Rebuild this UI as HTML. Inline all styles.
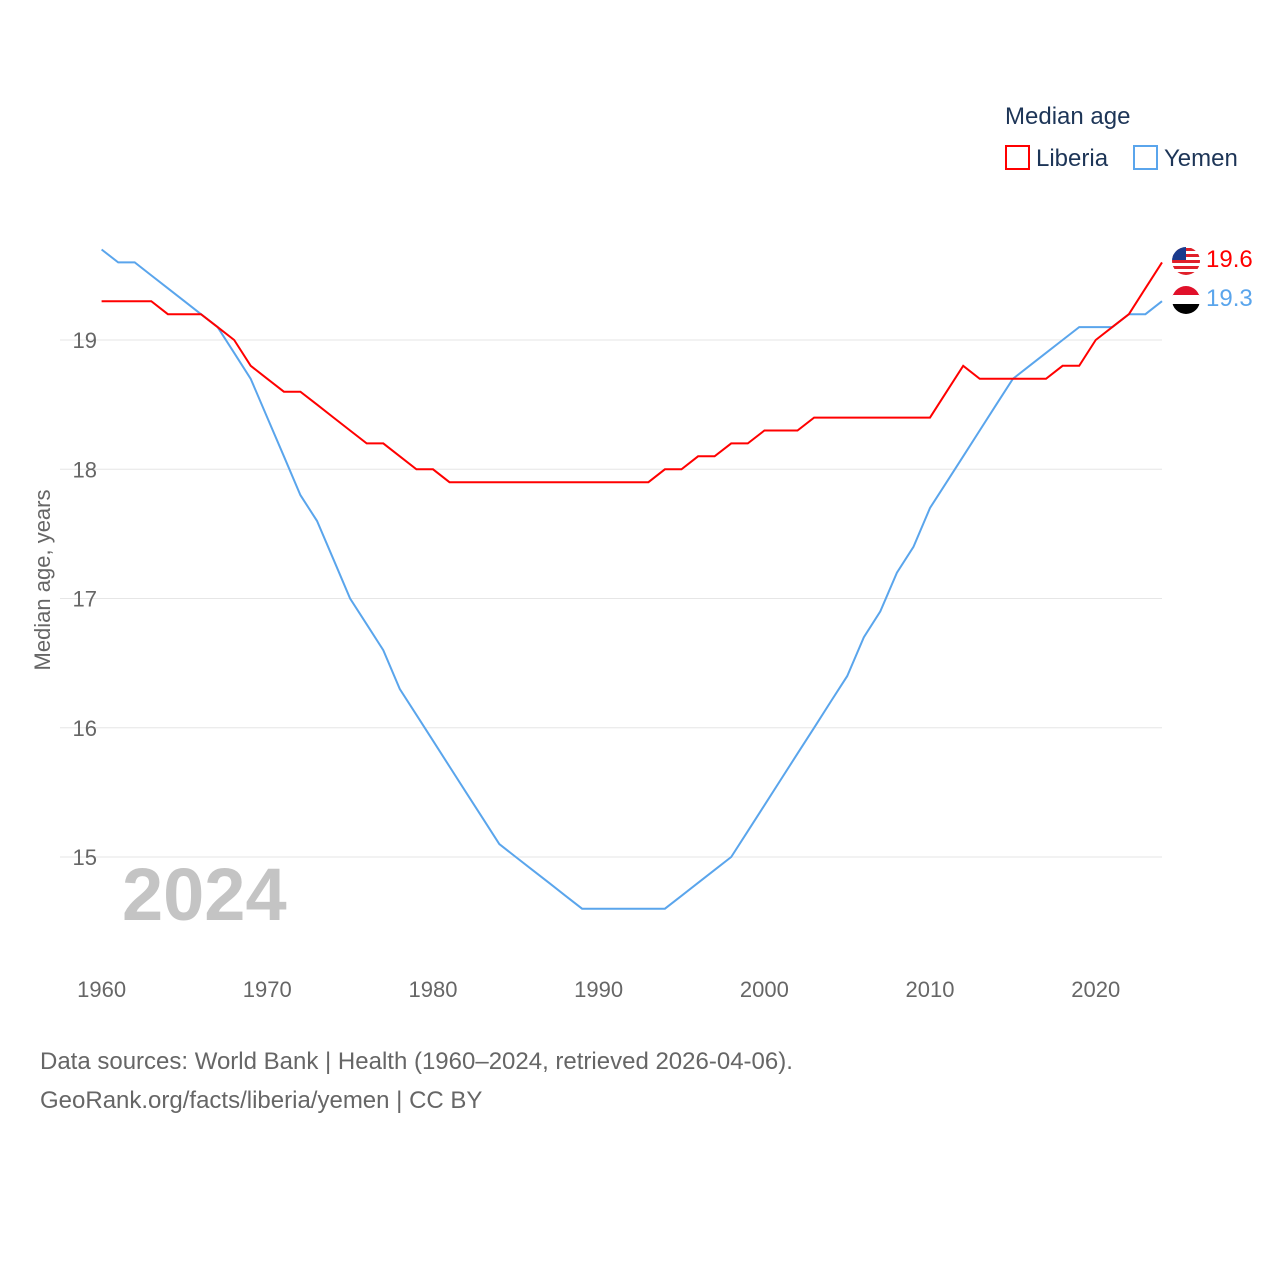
<!DOCTYPE html>
<html><head><meta charset="utf-8"><style>
body{margin:0;background:#fff;font-family:"Liberation Sans",sans-serif}
svg text{font-family:"Liberation Sans",sans-serif}
</style></head><body>
<svg id="chart" width="1280" height="1280" xmlns="http://www.w3.org/2000/svg">
<text x="1005" y="124" font-size="24" fill="#1d3557">Median age</text>
<g><rect x="1006" y="146" width="23" height="23" fill="none" stroke="#ff0000" stroke-width="2"/><text x="1036" y="166" font-size="24" fill="#1d3557">Liberia</text></g>
<g><rect x="1134" y="146" width="23" height="23" fill="none" stroke="#5aa5ec" stroke-width="2"/><text x="1164" y="166" font-size="24" fill="#1d3557">Yemen</text></g>
<g id="grid"></g><g id="ylabels"></g><g id="xlabels"></g>
<text transform="translate(50,580) rotate(-90)" text-anchor="middle" font-size="22" fill="#666">Median age, years</text>
<text x="122" y="920" font-size="74" font-weight="bold" fill="#c4c4c4">2024</text>
<g id="series"></g>
<g><clipPath id="c1"><circle cx="1186" cy="261" r="14"/></clipPath><g clip-path="url(#c1)"><rect x="1172" y="247" width="28" height="28" fill="#fff"/><rect x="1172" y="248" width="28" height="3" fill="#e0202a"/><rect x="1172" y="254" width="28" height="3" fill="#e0202a"/><rect x="1172" y="260" width="28" height="3" fill="#e0202a"/><rect x="1172" y="266" width="28" height="3" fill="#e0202a"/><rect x="1172" y="272" width="28" height="3" fill="#e0202a"/><rect x="1172" y="247" width="14" height="13" fill="#1a3a8c"/></g></g>
<g><clipPath id="c2"><circle cx="1186" cy="300" r="14"/></clipPath><g clip-path="url(#c2)"><rect x="1172" y="286" width="28" height="10" fill="#e0102a"/><rect x="1172" y="295" width="28" height="10" fill="#fff"/><rect x="1172" y="304" width="28" height="10" fill="#000"/></g></g>
<text x="1206" y="267" font-size="24" fill="#ff0000">19.6</text>
<text x="1206" y="306" font-size="24" fill="#5aa5ec">19.3</text>
<text x="40" y="1069" font-size="24" fill="#666">Data sources: World Bank | Health (1960–2024, retrieved 2026-04-06).</text>
<text x="40" y="1108" font-size="24" fill="#666">GeoRank.org/facts/liberia/yemen | CC BY</text>
</svg>
<script>
const years=[];for(let y=1960;y<=2024;y++)years.push(y);
const liberia=[19.3,19.3,19.3,19.3,19.2,19.2,19.2,19.1,19.0,18.8,18.7,18.6,18.6,18.5,18.4,18.3,18.2,18.2,18.1,18.0,18.0,17.9,17.9,17.9,17.9,17.9,17.9,17.9,17.9,17.9,17.9,17.9,17.9,17.9,18.0,18.0,18.1,18.1,18.2,18.2,18.3,18.3,18.3,18.4,18.4,18.4,18.4,18.4,18.4,18.4,18.4,18.6,18.8,18.7,18.7,18.7,18.7,18.7,18.8,18.8,19.0,19.1,19.2,19.4,19.6];
const yemen=[19.7,19.6,19.6,19.5,19.4,19.3,19.2,19.1,18.9,18.7,18.4,18.1,17.8,17.6,17.3,17.0,16.8,16.6,16.3,16.1,15.9,15.7,15.5,15.3,15.1,15.0,14.9,14.8,14.7,14.6,14.6,14.6,14.6,14.6,14.6,14.7,14.8,14.9,15.0,15.2,15.4,15.6,15.8,16.0,16.2,16.4,16.7,16.9,17.2,17.4,17.7,17.9,18.1,18.3,18.5,18.7,18.8,18.9,19.0,19.1,19.1,19.1,19.2,19.2,19.3];
const yTicks=[15,16,17,18,19];
const xTicks=[1960,1970,1980,1990,2000,2010,2020];
const NS="http://www.w3.org/2000/svg";
const X=y=>101.6+(y-1960)*(1162-101.6)/64;
const Y=v=>340+(19-v)*129.25;
function mk(t,a,p){const e=document.createElementNS(NS,t);for(const k in a)e.setAttribute(k,a[k]);p.appendChild(e);return e;}
const g=document.getElementById('grid'),yl=document.getElementById('ylabels'),xl=document.getElementById('xlabels'),s=document.getElementById('series');
yTicks.forEach(v=>{const l=mk('line',{x1:60,x2:1162,y1:Y(v),y2:Y(v),stroke:'#e6e6e6','stroke-width':1},g);


const t=mk('text',{x:97,y:Y(v)+8,'text-anchor':'end','font-size':22,fill:'#666'},yl);t.textContent=v;

});
xTicks.forEach(v=>{const t=mk('text',{x:X(v),y:997,'text-anchor':'middle','font-size':22,fill:'#666'},xl);t.textContent=v;

});
[[yemen,'#5aa5ec','line-yemen'],[liberia,'#ff0000','line-liberia']].forEach(([d,c,n])=>{
const p=mk('path',{d:d.map((v,i)=>(i?'L':'M')+X(years[i]).toFixed(1)+','+Y(v).toFixed(1)).join(''),fill:'none',stroke:c,'stroke-width':2},s);

});
</script>
</body></html>
